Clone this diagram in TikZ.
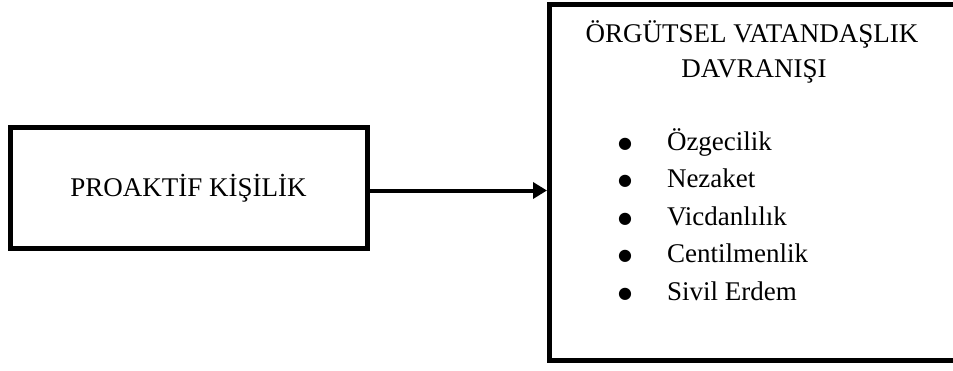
\documentclass[tikz,border=0pt]{standalone}
\usepackage{fontspec}
\setmainfont{Liberation Serif}
\newfontfamily\symfont{DejaVu Sans}
\usetikzlibrary{arrows.meta}
\tikzset{
  txt/.style={font=\fontsize{27}{35}\selectfont, inner sep=0pt, outer sep=0pt},
  box/.style={draw=black, line width=5pt, fill=white, txt},
  arr/.style={draw=black, line width=4pt, -{Triangle[length=14pt,width=16pt]}},
  item/.style={txt, anchor=base west},
  bul/.style={font=\symfont\fontsize{16}{16}\selectfont, inner sep=0pt, outer sep=0pt, anchor=center}
}
\begin{document}
\begin{tikzpicture}[x=1pt,y=-1pt]
\useasboundingbox (0,0) rectangle (953,370);
\fill[white] (0,0) rectangle (953,370);
\clip (0,0) rectangle (953,370);
\node[box, minimum width=357pt, minimum height=120.5pt, outer sep=2.5pt] (pk) at (188.5,187.75) {PROAKTİF KİŞİLİK};
\node[box, minimum width=430pt, minimum height=355.8pt, outer sep=2.5pt] (ovd) at (764.5,182.1) {};
\coordinate (lvl) at (0,190.5);
\draw[arr] (pk.east |- lvl) -- (ovd.west |- lvl);
\node[txt, anchor=base] (t1) at (752,42) {ÖRGÜTSEL VATANDAŞLIK};
\node[txt, anchor=base] (t2) at (754,77) {DAVRANIŞI};
\node[bul] (b1) at (625,144) {●};
\node[item] (i1) at (667,150) {Özgecilik};
\node[bul] (b2) at (625,181.5) {●};
\node[item] (i2) at (667,187.5) {Nezaket};
\node[bul] (b3) at (625,219) {●};
\node[item] (i3) at (667,225) {Vicdanlılık};
\node[bul] (b4) at (625,256.5) {●};
\node[item] (i4) at (667,262.5) {Centilmenlik};
\node[bul] (b5) at (625,294) {●};
\node[item] (i5) at (667,300) {Sivil Erdem};
\end{tikzpicture}
\end{document}
